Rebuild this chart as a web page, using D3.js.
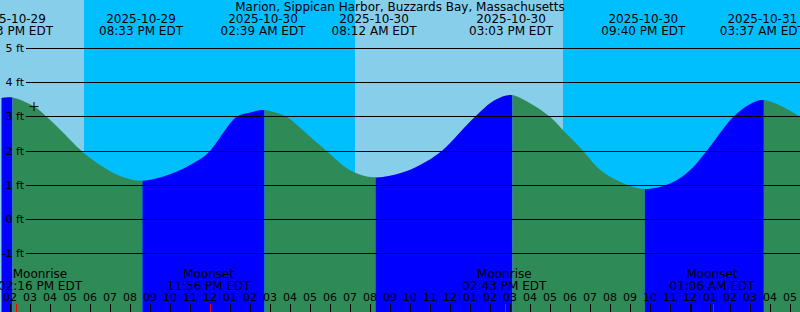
<!DOCTYPE html>
<meta charset="utf-8">
<style>
body{ margin:0; }
svg{ display:block; }
text{
    font-family:"DejaVu Sans", sans-serif;
    font-size:12px;
    fill:#000;
}
.grid text, .hour text{
    font-size:11px;
}
.grid line{
    stroke:#000;
    shape-rendering:crispEdges;
}
.hour line{
    stroke:#000;
    shape-rendering:crispEdges;
}
.moon line{
    stroke:#f00;
    shape-rendering:crispEdges;
}
</style>
<body>

<div id="chart"></div>

<script src="https://d3js.org/d3.v7.min.js"></script>
<script>
var title = "Marion, Sippican Harbor, Buzzards Bay, Massachusetts";

// tide height (local time, feet)
var tideTimes = ["2025-10-29 13:30","2025-10-29 14:03","2025-10-29 15:12","2025-10-29 15:50","2025-10-29 16:30",
    "2025-10-29 17:35","2025-10-29 18:30","2025-10-29 19:30","2025-10-29 20:33","2025-10-29 22:00",
    "2025-10-29 23:30","2025-10-30 00:00","2025-10-30 01:20","2025-10-30 02:00","2025-10-30 02:39",
    "2025-10-30 03:15","2025-10-30 03:50","2025-10-30 04:45","2025-10-30 05:50","2025-10-30 07:00",
    "2025-10-30 08:12","2025-10-30 09:30","2025-10-30 10:30","2025-10-30 11:35","2025-10-30 13:15",
    "2025-10-30 14:15","2025-10-30 15:03","2025-10-30 16:00","2025-10-30 17:00","2025-10-30 17:45",
    "2025-10-30 18:35","2025-10-30 19:30","2025-10-30 20:30","2025-10-30 21:40","2025-10-30 23:00",
    "2025-10-31 00:00","2025-10-31 00:50","2025-10-31 02:10","2025-10-31 03:00","2025-10-31 03:37",
    "2025-10-31 04:30","2025-10-31 05:30"];
var tideFeet = [3.54,3.57,3.30,3.00,2.63,
    2.00,1.59,1.27,1.13,1.32,
    1.76,2.00,3.00,3.13,3.20,
    3.13,3.00,2.55,2.00,1.44,
    1.23,1.35,1.59,2.00,3.00,
    3.49,3.64,3.40,3.00,2.55,
    2.05,1.45,1.10,0.89,1.05,
    1.44,2.00,3.00,3.37,3.49,
    3.33,3.00];

var extremeTimes = ["2025-10-29 14:03","2025-10-29 20:33","2025-10-30 02:39","2025-10-30 08:12",
    "2025-10-30 15:03","2025-10-30 21:40","2025-10-31 03:37"];
var extremeKinds = ["high","low","high","low","high","low","high"];

var sunTimes = ["2025-10-29 17:42","2025-10-30 07:15","2025-10-30 17:39"];
var sunKinds = ["set","rise","set"];

var moonTimes = ["2025-10-29 14:16","2025-10-29 23:56","2025-10-30 14:43","2025-10-31 01:06"];
var moonKinds = ["Moonrise","Moonset","Moonrise","Moonset"];

var nowTime = "2025-10-29 15:12";
var nowFeet = 3.30;

var feetTicks = [5,4,3,2,1,0,-1];
var startTime = "2025-10-29 13:30", endTime = "2025-10-31 05:30";

var W = 800, H = 312;
var parse = d3.timeParse("%Y-%m-%d %H:%M");
var fmtDate = d3.timeFormat("%Y-%m-%d");
var fmtTime = d3.timeFormat("%I:%M %p EDT");

var x = d3.scaleTime().domain([parse(startTime), parse(endTime)]).range([0, W]);
var y = d3.scaleLinear().domain([-1, 5]).range([253.5, 48.5]);

var svg = d3.select("#chart").append("svg").attr("width", W).attr("height", H);

// day / night
svg.append("rect").attr("width", W).attr("height", H).attr("fill", "#87ceeb");
var night = [], from = null;
sunTimes.forEach(function(t, i){
    if(sunKinds[i] == "set") from = parse(t);
    else { night.push([from || x.domain()[0], parse(t)]); from = null; }
});
if(from) night.push([from, x.domain()[1]]);
svg.selectAll(".night").data(night).enter().append("rect")
    .attr("x", d=>x(d[0])).attr("width", d=>x(d[1]) - x(d[0]))
    .attr("y", 0).attr("height", H).attr("fill", "#00bfff");

// tide fill, blue while rising, green while falling
var tide = tideTimes.map((t, i)=>({t: parse(t), f: tideFeet[i]}));
var area = d3.area().x(d=>x(d.t)).y0(H).y1(d=>y(d.f)).curve(d3.curveCatmullRom.alpha(0.5));
svg.append("clipPath").attr("id", "under").append("path").attr("d", area(tide));

var bounds = [x.domain()[0]].concat(extremeTimes.map(parse), [x.domain()[1]]);
var segs = [];
for(var i = 0; i < bounds.length - 1; i++){
    var rising = i < extremeKinds.length ? extremeKinds[i] == "high" : extremeKinds[i-1] == "low";
    segs.push({a: bounds[i], b: bounds[i+1], rising: rising});
}
svg.append("g").attr("clip-path", "url(#under)")
    .selectAll("rect").data(segs).enter().append("rect")
    .attr("x", d=>x(d.a) + 1.5).attr("width", d=>x(d.b) - x(d.a))
    .attr("y", 0).attr("height", H)
    .attr("fill", d=>d.rising ? "#0000ff" : "#2e8b57");

// feet lines
var grid = svg.append("g").attr("class", "grid");
grid.selectAll("line").data(feetTicks).enter().append("line")
    .attr("x1", 26).attr("x2", W)
    .attr("y1", d=>Math.floor(y(d)) + 0.5).attr("y2", d=>Math.floor(y(d)) + 0.5);
grid.selectAll("text").data(feetTicks).enter().append("text")
    .attr("x", 24).attr("y", d=>y(d)).attr("dy", "0.33em")
    .attr("text-anchor", "end").text(d=>d + " ft");

// current level
var px = x(parse(nowTime)), py = y(nowFeet);
svg.append("path").attr("d", "M" + (px-4.5) + "," + py + "h9M" + px + "," + (py-4.5) + "v9")
    .attr("stroke", "#000").attr("fill", "none");

// title and tide times
svg.append("text").attr("x", W/2).attr("y", 11).attr("text-anchor", "middle").text(title);
var ext = svg.selectAll(".ext").data(extremeTimes.map(parse)).enter().append("g")
    .attr("transform", d=>"translate(" + x(d) + ",0)");
ext.append("text").attr("y", 23).attr("text-anchor", "middle").text(d=>fmtDate(d));
ext.append("text").attr("y", 35).attr("text-anchor", "middle").text(d=>fmtTime(d));

// hour ticks
var hours = x.ticks(d3.timeHour.every(1));
var hr = svg.append("g").attr("class", "hour");
hr.selectAll("line").data(hours).enter().append("line")
    .attr("x1", d=>Math.round(x(d)) + 0.5).attr("x2", d=>Math.round(x(d)) + 0.5)
    .attr("y1", 304).attr("y2", H)
    .attr("stroke-width", d=>d.getHours() == 0 ? 2 : 1);
hr.selectAll("text").data(hours).enter().append("text")
    .attr("x", d=>x(d)).attr("y", 301).attr("text-anchor", "middle")
    .text(d3.timeFormat("%I"));

// moon rise / set
var moon = svg.append("g").attr("class", "moon");
var mdata = moonTimes.map((t, i)=>({t: parse(t), k: moonKinds[i]}));
moon.selectAll("line").data(mdata).enter().append("line")
    .attr("x1", d=>Math.round(x(d.t)) + 1.5).attr("x2", d=>Math.round(x(d.t)) + 1.5)
    .attr("y1", 304).attr("y2", H);
var ml = moon.selectAll(".ml").data(mdata).enter().append("g");
ml.append("text").attr("class", "mt").attr("y", 290).attr("text-anchor", "middle").text(d=>fmtTime(d.t));
ml.append("text").attr("y", 278).attr("text-anchor", "middle").text(d=>d.k);
ml.attr("transform", function(d){
    var w = d3.select(this).select(".mt").node().getComputedTextLength();
    return "translate(" + Math.max(x(d.t), w/2 - 2) + ",0)";
});
</script>
</body>
</html>
